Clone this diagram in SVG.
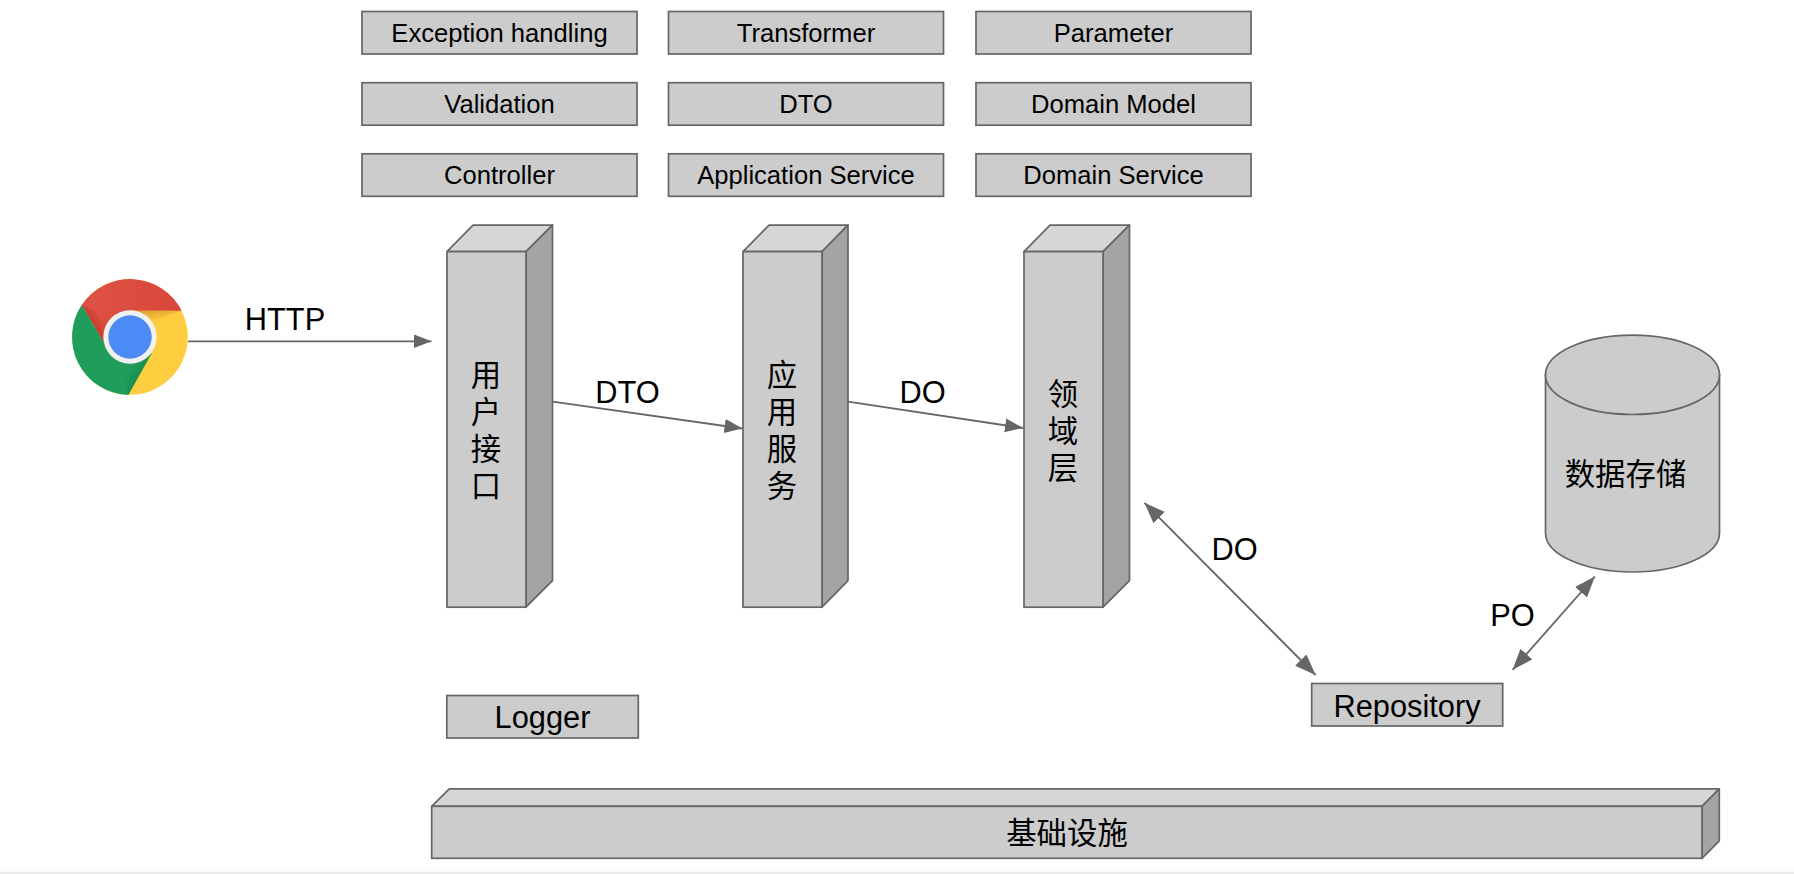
<svg xmlns="http://www.w3.org/2000/svg" width="1794" height="874" viewBox="0 0 1794 874">
<style>
text{font-family:"Liberation Sans","Noto Sans CJK SC",sans-serif;fill:#000;text-anchor:middle}
.s{font-size:25.6px}.l{font-size:30.8px}.c{font-size:30.4px;font-family:"Noto Sans CJK SC","Liberation Sans",sans-serif}
.v{writing-mode:vertical-rl;letter-spacing:6.6px}
.b{fill:#ccc;stroke:#666;stroke-width:1.7}
.t{fill:#d6d6d6;stroke:#666;stroke-width:1.7;stroke-linejoin:round}
.r{fill:#a4a4a4;stroke:#666;stroke-width:1.7;stroke-linejoin:round}
.e{fill:none;stroke:#666;stroke-width:1.8}
</style>
<defs>
<marker id="a" markerUnits="userSpaceOnUse" markerWidth="20" markerHeight="16" refX="18" refY="7" orient="auto-start-reverse"><path d="M0 0L18 7L0 14Z" fill="#666"/></marker>
<marker id="d" markerUnits="userSpaceOnUse" markerWidth="24" markerHeight="18" refX="21" refY="8" orient="auto-start-reverse"><path d="M0 0L21 8L0 16Z" fill="#666"/></marker>
<radialGradient id="rg" gradientUnits="userSpaceOnUse" cx="90" cy="295" r="100"><stop offset="0" stop-color="#dd5245"/><stop offset="1" stop-color="#d94538"/></radialGradient>
<linearGradient id="rs" gradientUnits="userSpaceOnUse" x1="88" y1="325" x2="100" y2="318"><stop offset="0" stop-color="#b5261f" stop-opacity=".75"/><stop offset="1" stop-color="#b5261f" stop-opacity="0"/></linearGradient>
<linearGradient id="ys" gradientUnits="userSpaceOnUse" x1="155" y1="310" x2="157" y2="322"><stop offset="0" stop-color="#dc9a2c" stop-opacity=".8"/><stop offset="1" stop-color="#dc9a2c" stop-opacity="0"/></linearGradient>
<linearGradient id="gs" gradientUnits="userSpaceOnUse" x1="142" y1="375" x2="130" y2="368"><stop offset="0" stop-color="#0b6e3c" stop-opacity=".4"/><stop offset="1" stop-color="#0b6e3c" stop-opacity="0"/></linearGradient>
</defs>
<rect id="page-edge" x="0" y="871.7" width="1794" height="2.3" fill="#ebebeb"/>

<g id="exception-handling"><rect class="b" x="362" y="11.5" width="275" height="42.5"/><text class="s" x="499.5" y="41.5">Exception handling</text></g>
<g id="validation"><rect class="b" x="362" y="82.7" width="275" height="42.5"/><text class="s" x="499.5" y="112.7">Validation</text></g>
<g id="controller"><rect class="b" x="362" y="153.8" width="275" height="42.5"/><text class="s" x="499.5" y="183.8">Controller</text></g>
<g id="transformer"><rect class="b" x="668.5" y="11.5" width="275" height="42.5"/><text class="s" x="806" y="41.5">Transformer</text></g>
<g id="dto"><rect class="b" x="668.5" y="82.7" width="275" height="42.5"/><text class="s" x="806" y="112.7">DTO</text></g>
<g id="application-service"><rect class="b" x="668.5" y="153.8" width="275" height="42.5"/><text class="s" x="806" y="183.8">Application Service</text></g>
<g id="parameter"><rect class="b" x="976" y="11.5" width="275" height="42.5"/><text class="s" x="1113.5" y="41.5">Parameter</text></g>
<g id="domain-model"><rect class="b" x="976" y="82.7" width="275" height="42.5"/><text class="s" x="1113.5" y="112.7">Domain Model</text></g>
<g id="domain-service"><rect class="b" x="976" y="153.8" width="275" height="42.5"/><text class="s" x="1113.5" y="183.8">Domain Service</text></g>

<g id="browser">
<circle cx="130" cy="337" r="57.8" fill="#ffcd40"/>
<path d="M81.7 305A58 58 0 0 1 181.7 310.7L130 310.7Q112 312 104.3 343.3Z" fill="url(#rg)"/>
<path d="M81.7 305L104.3 343.3L112 318Z" fill="url(#rs)"/>
<path d="M81.7 305L104.3 343.3L130 337L151.7 353.3L128.3 395A58 58 0 0 1 81.7 305Z" fill="#1f9e5b"/>
<path d="M135 310.7L181.7 310.7L150 322Z" fill="url(#ys)"/>
<path d="M151.7 353.3L128.3 395L122 372Z" fill="url(#gs)"/>
<circle cx="130" cy="337" r="26.7" fill="#f1f1f1"/>
<circle cx="130" cy="337" r="21.7" fill="#4c8bf5"/>
</g>

<g id="user-interface">
<path class="t" d="M447 251.6L473 225.2H552.5L526 251.6Z"/>
<path class="r" d="M526 251.6L552.5 225.2V580.6L526 607.2Z"/>
<rect class="b" x="447" y="251.6" width="79" height="355.6"/>
<text class="c v" x="486" y="433">用户接口</text>
</g>
<g id="application-layer">
<path class="t" d="M743 251.6L769 225.2H848L822 251.6Z"/>
<path class="r" d="M822 251.6L848 225.2V580.6L822 607.2Z"/>
<rect class="b" x="743" y="251.6" width="79" height="355.6"/>
<text class="c v" x="782" y="433">应用服务</text>
</g>
<g id="domain-layer">
<path class="t" d="M1024 251.6L1050 225.2H1129.5L1103 251.6Z"/>
<path class="r" d="M1103 251.6L1129.5 225.2V580.6L1103 607.2Z"/>
<rect class="b" x="1024" y="251.6" width="79" height="355.6"/>
<text class="c v" x="1063" y="434">领域层</text>
</g>

<g id="storage">
<path class="b" d="M1545.5 374.8V533A87 39 0 0 0 1719.5 533V374.8Z"/>
<ellipse class="b" cx="1632.5" cy="374.8" rx="87" ry="39.7"/>
<text class="c" x="1625.5" y="484.5">数据存储</text>
</g>
<g id="repository"><rect class="b" x="1311.7" y="683.5" width="191" height="42.5"/><text class="l" x="1407" y="716.5">Repository</text></g>
<g id="logger"><rect class="b" x="446.8" y="695.5" width="191.5" height="42.5"/><text class="l" x="542.5" y="728">Logger</text></g>
<g id="infrastructure">
<path class="t" d="M431.7 806.3L449.3 788.8H1719.3L1702 806.3Z"/>
<path class="r" d="M1702 806.3L1719.3 788.8V840.8L1702 858.3Z"/>
<rect class="b" x="431.7" y="806.3" width="1270.3" height="52"/>
<text class="c" x="1067" y="844">基础设施</text>
</g>

<g id="connectors">
<path class="e" d="M188 341.3H431.5" marker-end="url(#a)"/>
<path class="e" d="M552.6 401.6L742.5 428.5" marker-end="url(#a)"/>
<path class="e" d="M848 401.6L1023 428" marker-end="url(#a)"/>
<path class="e" d="M1144.4 502.8L1315.6 675" marker-start="url(#d)" marker-end="url(#d)"/>
<path class="e" d="M1594.9 576.5L1512.6 669.8" marker-start="url(#d)" marker-end="url(#d)"/>
<text class="l" x="285" y="329.5">HTTP</text>
<text class="l" x="627.5" y="402.5">DTO</text>
<text class="l" x="922.5" y="402.5">DO</text>
<text class="l" x="1234.5" y="560">DO</text>
<text class="l" x="1512.5" y="626">PO</text>
</g>
</svg>
